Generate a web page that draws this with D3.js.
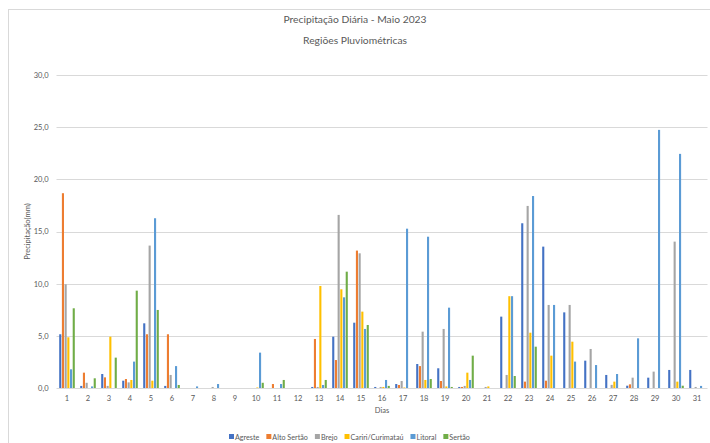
<!DOCTYPE html>
<html>
<head>
<meta charset="utf-8">
<script src="https://cdn.jsdelivr.net/npm/d3@7"></script>
<style>
  html, body { margin: 0; padding: 0; background: #fff; }
  svg { display: block; }
  text { font-family: Lato, "Open Sans", sans-serif; fill: #595959; }
</style>
</head>
<body>
<div id="chart"></div>
<script>
// Daily rainfall (mm) by pluviometric region, May 2023
const days = d3.range(1, 32).map(String);
const seriesNames = ["Agreste", "Alto Sertão", "Brejo", "Cariri/Curimataú", "Litoral", "Sertão"];
const agreste    = [5.15,0.2,1.34,0.7,6.2,0.2,0,0,0,0,0,0,0.1,4.92,6.26,0.1,0.38,2.3,1.89,0.1,0,6.84,15.79,13.55,7.25,2.62,1.25,0.22,0.99,1.73,1.73];
const altoSertao = [18.67,1.47,1.02,0.86,5.15,5.15,0,0,0,0,0.38,0,4.7,2.68,13.17,0,0.29,2.1,0.67,0.1,0,0,0.61,0.7,0,0,0,0.35,0,0,0];
const brejo      = [9.94,0.5,0.2,0.54,13.65,1.25,0,0.1,0,0,0,0,0.1,16.59,12.91,0.1,0.67,5.4,5.66,0.2,0.1,1.25,17.45,7.96,7.96,3.74,0.3,0.99,1.57,14.03,0.1];
const cariri     = [4.86,0,4.92,0.77,0.7,0,0,0,0,0.05,0,0,9.78,9.46,7.32,0.1,0.05,0.77,0.15,1.47,0.15,8.8,5.3,3.1,4.44,0,0.61,0,0,0.61,0];
const litoral    = [1.79,0.15,0,2.53,16.27,2.1,0.15,0.38,0,3.39,0.38,0,0.29,8.69,5.66,0.77,15.27,14.5,7.7,0.77,0,8.8,18.4,7.96,2.53,2.2,1.34,4.76,24.74,22.44,0.2];
const sertao     = [7.64,0.93,2.91,9.33,7.48,0.29,0,0,0,0.5,0.77,0,0.77,11.15,6.04,0.2,0,0.86,0.1,3.1,0,1.15,3.96,0,0,0,0,0,0,0.22,0];
const seriesValues = [agreste, altoSertao, brejo, cariri, litoral, sertao];
const colors = ["#4472C4", "#ED7D31", "#A5A5A5", "#FFC000", "#5B9BD5", "#70AD47"];
const yTicks = [0, 5, 10, 15, 20, 25, 30];

const W = 710, H = 443;
const margin = { top: 75, right: 2.5, bottom: 55, left: 56.5 };

const svg = d3.select("#chart").append("svg").attr("width", W).attr("height", H);

// chart frame
svg.append("rect")
  .attr("x", 8.5).attr("y", 9.5).attr("width", 720).attr("height", 460)
  .attr("fill", "#fff").attr("stroke", "#d9d9d9").attr("stroke-width", 1);

const x0 = d3.scaleBand().domain(days)
  .range([margin.left, W - margin.right])
  .paddingInner(0.2).paddingOuter(0.1);
const x1 = d3.scaleBand().domain(seriesNames)
  .range([0, x0.bandwidth()]).padding(0.22);
const y = d3.scaleLinear().domain([0, 30]).range([388, 75]);
const color = d3.scaleOrdinal().domain(seriesNames).range(colors);

// gridlines
svg.append("g")
  .selectAll("line").data(yTicks).join("line")
  .attr("x1", margin.left).attr("x2", W - margin.right)
  .attr("y1", d => Math.round(y(d)) + 0.5).attr("y2", d => Math.round(y(d)) + 0.5)
  .attr("stroke", "#d9d9d9").attr("stroke-width", 1);

// y axis labels
const yAxis = svg.append("g").attr("transform", `translate(${margin.left - 8},0)`)
  .call(d3.axisLeft(y).tickValues(yTicks).tickSize(0).tickPadding(0)
    .tickFormat(d => d3.format(".1f")(d).replace(".", ",")));
yAxis.select(".domain").remove();
yAxis.selectAll("text").style("font-size", "7.5px").attr("fill", "#595959")
  .style("font-family", "Lato, 'Open Sans', sans-serif");

// x axis labels
const xAxis = svg.append("g").attr("transform", `translate(0,${y(0)})`)
  .call(d3.axisBottom(x0).tickSize(0).tickPadding(8));
xAxis.select(".domain").remove();
xAxis.selectAll("text").style("font-size", "7.5px").attr("fill", "#595959")
  .style("font-family", "Lato, 'Open Sans', sans-serif");

// bars
const rows = days.map((d, i) => ({ day: d, vals: seriesNames.map((s, j) => ({ key: s, value: seriesValues[j][i] })) }));
svg.append("g")
  .selectAll("g").data(rows).join("g")
  .attr("transform", d => `translate(${x0(d.day)},0)`)
  .selectAll("rect").data(d => d.vals).join("rect")
  .attr("x", d => x1(d.key))
  .attr("width", x1.bandwidth())
  .attr("y", d => y(d.value))
  .attr("height", d => y(0) - y(d.value))
  .attr("fill", d => color(d.key));

// titles
svg.append("text").attr("x", 355).attr("y", 23).attr("text-anchor", "middle")
  .style("font-size", "10.3px").text("Precipitação Diária - Maio 2023");
svg.append("text").attr("x", 355).attr("y", 44).attr("text-anchor", "middle")
  .style("font-size", "10.3px").text("Regiões Pluviométricas");

// axis titles
svg.append("text").attr("x", (margin.left + W - margin.right) / 2).attr("y", 413)
  .attr("text-anchor", "middle").style("font-size", "7.5px").text("Dias");
svg.append("text")
  .attr("transform", `translate(30,${(y(0) + y(30)) / 2}) rotate(-90)`)
  .attr("text-anchor", "middle").style("font-size", "7.5px").text("Precipitação(mm)");

// legend
const legend = svg.append("g").attr("transform", "translate(0,437)");
let lx = 229;
seriesNames.forEach(s => {
  legend.append("rect").attr("x", lx).attr("y", -3).attr("width", 5).attr("height", 5).attr("fill", color(s));
  const t = legend.append("text").attr("x", lx + 6).attr("y", 2.5)
    .style("font-size", "7.2px").text(s);
  lx += 6 + t.node().getComputedTextLength() + 7;
});
</script>
</body>
</html>
